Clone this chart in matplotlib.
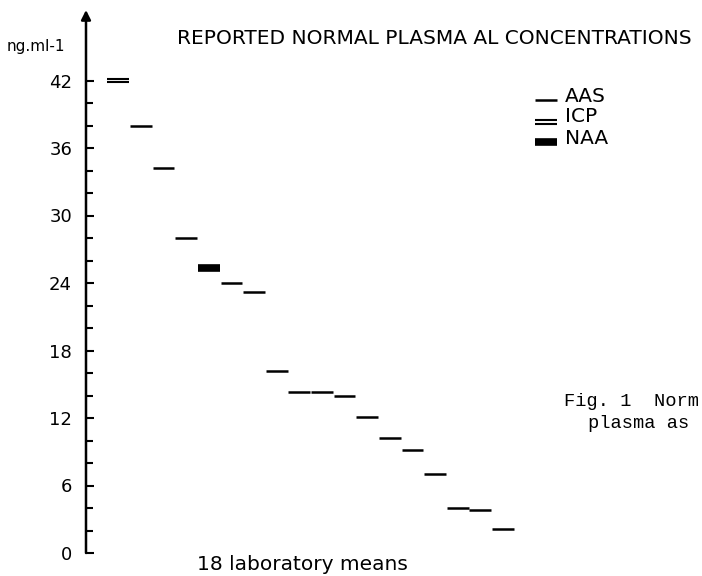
import matplotlib
matplotlib.use('Agg')
import matplotlib.pyplot as plt
import numpy as np

# laboratory means, ng/ml (lab 1..18)
lab_means = [42.0, 38.0, 34.2, 28.0, 25.3, 24.0, 23.2, 16.2, 14.3, 14.3,
             14.0, 12.1, 10.2, 9.2, 7.0, 4.0, 3.8, 2.1]
lab_methods = ['ICP', 'AAS', 'AAS', 'AAS', 'NAA', 'AAS', 'AAS', 'AAS', 'AAS', 'AAS',
               'AAS', 'AAS', 'AAS', 'AAS', 'AAS', 'AAS', 'AAS', 'AAS']
y_ticks = [0, 6, 12, 18, 24, 30, 36, 42]
legend_methods = ['AAS', 'ICP', 'NAA']

fig = plt.figure(figsize=(7.02, 5.76), dpi=100)
ax = fig.add_axes([86/702, 23/576, 616/702, 543/576])
ax.set_xlim(-0.93, 26.3)
ax.set_ylim(0, 543 / 11.25)


def draw_mark(x0, x1, y, method):
    if method == 'AAS':
        ax.hlines(y, x0, x1, colors='black', lw=1.8, clip_on=False)
    elif method == 'ICP':
        ax.hlines([y - 0.17, y + 0.17], x0, x1, colors='black', lw=1.5, clip_on=False)
    else:
        ax.hlines(y, x0, x1, colors='black', lw=5.5, clip_on=False)


for i, (m, meth) in enumerate(zip(lab_means, lab_methods)):
    draw_mark(i + 0.02, i + 0.98, m, meth)

# axes look
for s in ['top', 'right', 'bottom', 'left']:
    ax.spines[s].set_visible(False)
ax.annotate('', xy=(0, 1.0), xytext=(0, 0), xycoords='axes fraction',
            arrowprops=dict(arrowstyle='-|>', color='black', lw=1.8,
                            mutation_scale=14, shrinkA=0, shrinkB=0))
ax.set_xticks([])
ax.set_yticks(y_ticks)
ax.set_yticks(np.arange(0, 43, 2), minor=True)
ax.tick_params(axis='y', which='both', direction='in', length=6, width=1.5,
               labelsize=13, pad=10)
ax.tick_params(axis='y', which='minor', length=5)

fig.text(7/702, 1 - 47/576, 'ng.ml-1', fontsize=11, va='center', ha='left')
fig.text(177/702, 1 - 39/576, 'REPORTED NORMAL PLASMA AL CONCENTRATIONS',
         fontsize=14.5, va='center', ha='left')
fig.text(197/702, 1 - 565/576, '18 laboratory means', fontsize=14.5,
         va='center', ha='left')

# legend drawn by hand
leg_line_y = [100, 122, 142]
leg_text_y = [96, 117, 138]
for meth, py, ty in zip(legend_methods, leg_line_y, leg_text_y):
    yd = (553 - py) / 11.25
    draw_mark((535 - 107) / 22.6, (557 - 107) / 22.6, yd, meth)
    fig.text(565/702, 1 - ty/576, meth, fontsize=14.5, va='center', ha='left')

# caption as far as it is visible at the page edge
fig.text(564/702, 1 - 401/576, 'Fig. 1  Norm', fontsize=13.5,
         family='Liberation Mono', va='center', ha='left')
fig.text(588/702, 1 - 423/576, 'plasma as', fontsize=13.5,
         family='Liberation Mono', va='center', ha='left')

fig.savefig('out.png', dpi=100)
